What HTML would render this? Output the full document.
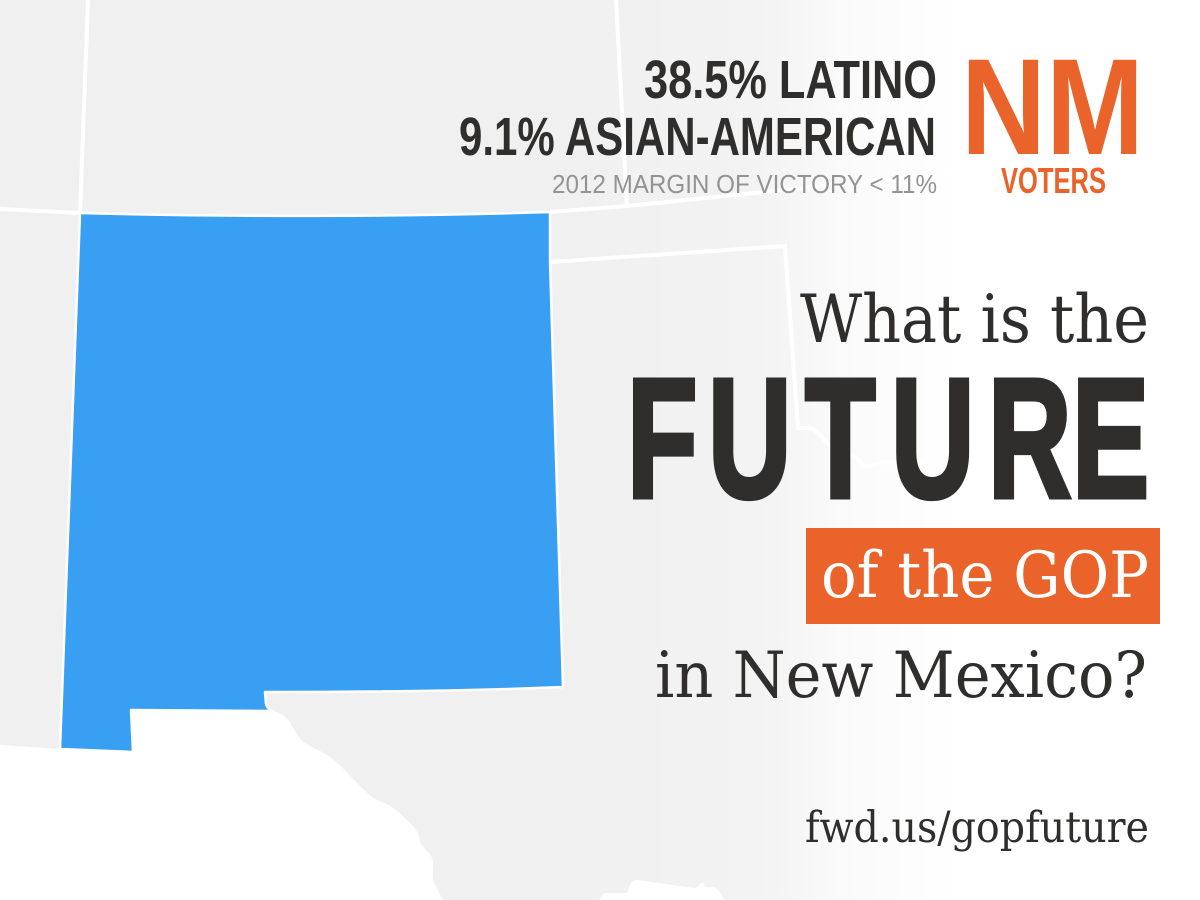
<!DOCTYPE html>
<html lang="en">
<head>
<meta charset="utf-8">
<title>Future of the GOP in New Mexico</title>
<style>
  html,body{margin:0;padding:0;background:#fff;}
  svg{display:block;width:1200px;height:900px;}
  .sans{font-family:"Liberation Sans",sans-serif;font-weight:700;}
  .serif{font-family:"DejaVu Serif","Liberation Serif",serif;font-weight:400;}
</style>
</head>
<body>
<svg xmlns="http://www.w3.org/2000/svg" width="1200" height="900" viewBox="0 0 1200 900">
  <defs>
    <linearGradient id="fade" x1="0" y1="0" x2="1" y2="0">
      <stop offset="0" stop-color="#fff" stop-opacity="0"/>
      <stop offset="0.5" stop-color="#fff" stop-opacity="0.2"/>
      <stop offset="0.725" stop-color="#fff" stop-opacity="0.7"/>
      <stop offset="1" stop-color="#fff" stop-opacity="1"/>
    </linearGradient>
  </defs>

  <rect x="0" y="0" width="1200" height="900" fill="#f0f0f0"/>

  <path fill="#ffffff"
    d="M0,745 L60,749 L133,752 L131,710 L273,711 C282,713 287,717 291,724 C296,733 299,739 305,743 C312,748 322,751 330,757 C340,764 350,776 360,786 C368,794 376,801 384,803 C394,807 402,815 412,825 C417,830 419,835 420,842 C422,848 429,851 432,858 C435,866 431,875 434,883 L443,900 L0,900 Z"/>
  <path fill="#ffffff"
    d="M600,900 L604,893 L627,893 C630,886 630,880 637,880 L694,888 C698,888 699,884 702,883 C705,882 704,886 705,887 L714,887 C718,889 722,895 725,900 Z"/>

  <g fill="none" stroke="#ffffff" stroke-width="4">
    <path d="M88,0 L80,213"/>
    <path d="M0,209 L80,213"/>
    <path d="M616,0 L627,206"/>
    <path d="M550,212 L627,206 L960,172"/>
    <path d="M550,262 L785,246 L798,428 L810,428 C818,430 826,444 836,450 C845,455 851,454 857,458 C863,462 860,467 866,466 C875,466 884,460 893,462 C901,464 906,472 912,468 C919,460 928,462 950,458"/>
  </g>

  <rect x="560" y="0" width="400" height="900" fill="url(#fade)"/>
  <rect x="960" y="0" width="240" height="900" fill="#ffffff"/>

  <path fill="#399ff2" stroke="#ffffff" stroke-width="2.5" stroke-linejoin="round"
    d="M80,213 C230,217 400,217 550,212 L550,262 L563,687 C470,691 360,692 265,692 L266,704 C267,708 270,710 273,711 L131,710 L133,752 L60,749 Z"/>

  <text class="sans" x="644" y="98" font-size="53.5" textLength="293" lengthAdjust="spacingAndGlyphs" fill="#2f2e2c">38.5% LATINO</text>
  <text class="sans" x="459" y="155" font-size="53.5" textLength="477" lengthAdjust="spacingAndGlyphs" fill="#2f2e2c">9.1% ASIAN-AMERICAN</text>
  <text x="552" y="193" font-family="'Liberation Sans',sans-serif" font-size="25.5" textLength="385" lengthAdjust="spacingAndGlyphs" fill="#939393">2012 MARGIN OF VICTORY &lt; 11%</text>

  <text class="sans" x="961" y="154" font-size="137" textLength="183" lengthAdjust="spacingAndGlyphs" fill="#e9632b">NM</text>
  <text class="sans" x="1001" y="193" font-size="36" textLength="105" lengthAdjust="spacingAndGlyphs" fill="#e9632b">VOTERS</text>

  <text class="serif" x="800" y="342" font-size="66" textLength="349" lengthAdjust="spacingAndGlyphs" fill="#2f2e2c">What is the</text>
  <text class="sans" transform="scale(0.68,1)" x="922 1041.2 1183.8 1310.3 1452.9 1576.5" y="497" font-size="170" stroke="#2f2e2c" stroke-width="5" fill="#2f2e2c">FUTURE</text>

  <rect x="806" y="528" width="354" height="96" fill="#e9632b"/>
  <text class="serif" x="821" y="597" font-size="64" textLength="328" lengthAdjust="spacingAndGlyphs" fill="#ffffff">of the GOP</text>

  <text class="serif" x="655" y="697" font-size="64" textLength="492" lengthAdjust="spacingAndGlyphs" fill="#2f2e2c">in New Mexico?</text>

  <text class="serif" x="805" y="842" font-size="43" textLength="344" lengthAdjust="spacingAndGlyphs" fill="#2f2e2c">fwd.us/gopfuture</text>
</svg>
</body>
</html>
